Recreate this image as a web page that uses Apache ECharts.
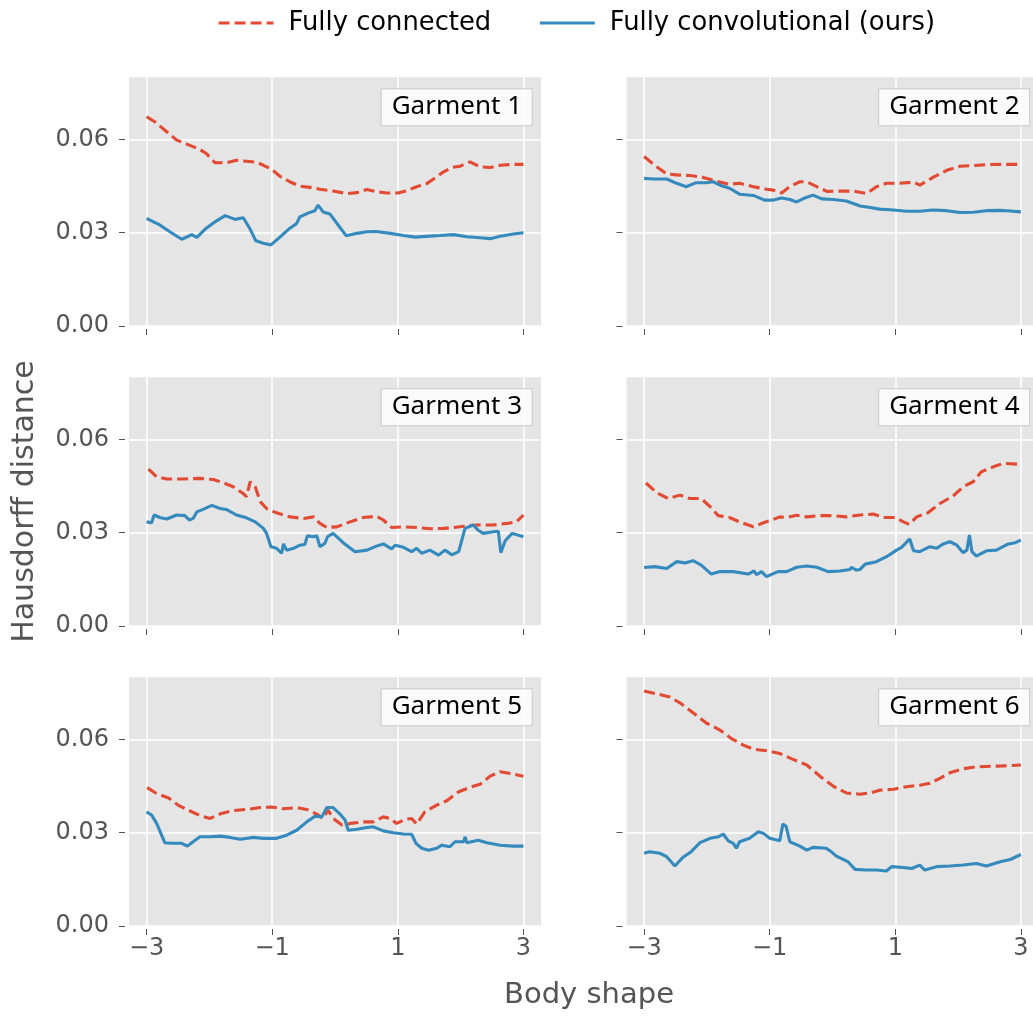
<!DOCTYPE html>
<html>
<head>
<meta charset="utf-8">
<script src="https://cdn.jsdelivr.net/npm/echarts@6.0.0/dist/echarts.min.js"></script>
<style>
  html, body { margin: 0; padding: 0; background: #ffffff; }
  #chart { width: 1033px; height: 1016px; }
</style>
</head>
<body>
<div id="chart"></div>
<script>
// ---------- data ----------
const seriesNames = ['Fully connected', 'Fully convolutional (ours)'];
const garments = ['Garment 1', 'Garment 2', 'Garment 3', 'Garment 4', 'Garment 5', 'Garment 6'];
const xTicks = [-3, -1, 1, 3];
const yTicks = [0, 0.03, 0.06];

const g1FC = [[-3.00,0.0673],[-2.87,0.0657],[-2.68,0.0625],[-2.52,0.0598],[-2.36,0.0585],[-2.15,0.0568],[-2.04,0.0553],[-1.91,0.0525],[-1.73,0.0525],[-1.57,0.0533],[-1.41,0.0530],[-1.25,0.0527],[-1.14,0.0517],[-1.00,0.0503],[-0.88,0.0482],[-0.72,0.0464],[-0.56,0.0450],[-0.40,0.0446],[-0.24,0.0440],[-0.03,0.0434],[0.19,0.0426],[0.35,0.0429],[0.51,0.0439],[0.66,0.0432],[0.82,0.0428],[1.00,0.0428],[1.14,0.0435],[1.30,0.0448],[1.46,0.0458],[1.62,0.0480],[1.73,0.0496],[1.86,0.0510],[1.99,0.0514],[2.15,0.0528],[2.31,0.0512],[2.47,0.0510],[2.63,0.0517],[2.84,0.0520],[3.00,0.0520]];
const g1Ours = [[-3.00,0.0346],[-2.89,0.0335],[-2.79,0.0325],[-2.63,0.0303],[-2.44,0.0279],[-2.28,0.0294],[-2.20,0.0285],[-2.07,0.0311],[-1.91,0.0335],[-1.75,0.0355],[-1.59,0.0343],[-1.46,0.0348],[-1.35,0.0311],[-1.26,0.0274],[-1.14,0.0266],[-1.02,0.0261],[-0.90,0.0282],[-0.74,0.0311],[-0.61,0.0330],[-0.56,0.0351],[-0.42,0.0364],[-0.32,0.0371],[-0.27,0.0389],[-0.19,0.0367],[-0.08,0.0360],[0.05,0.0325],[0.18,0.0290],[0.35,0.0298],[0.51,0.0303],[0.66,0.0304],[0.88,0.0298],[1.09,0.0291],[1.28,0.0286],[1.51,0.0289],[1.67,0.0291],[1.89,0.0294],[2.10,0.0287],[2.31,0.0284],[2.47,0.0281],[2.63,0.0289],[2.84,0.0296],[3.00,0.0300]];

const g2FC = [[-3.00,0.0545],[-2.80,0.0512],[-2.64,0.0489],[-2.48,0.0486],[-2.27,0.0484],[-2.06,0.0478],[-1.85,0.0466],[-1.64,0.0456],[-1.48,0.0459],[-1.26,0.0448],[-1.05,0.0440],[-0.94,0.0437],[-0.81,0.0428],[-0.68,0.0448],[-0.52,0.0464],[-0.41,0.0464],[-0.25,0.0448],[-0.09,0.0433],[0.12,0.0434],[0.33,0.0434],[0.54,0.0426],[0.70,0.0448],[0.86,0.0459],[1.07,0.0459],[1.29,0.0463],[1.39,0.0453],[1.60,0.0478],[1.82,0.0501],[2.03,0.0514],[2.24,0.0516],[2.45,0.0519],[2.67,0.0520],[3.00,0.0520]];
const g2Ours = [[-3.00,0.0475],[-2.86,0.0473],[-2.64,0.0473],[-2.48,0.0459],[-2.33,0.0448],[-2.17,0.0461],[-2.01,0.0461],[-1.90,0.0464],[-1.79,0.0453],[-1.64,0.0443],[-1.48,0.0424],[-1.26,0.0420],[-1.08,0.0405],[-0.94,0.0405],[-0.81,0.0412],[-0.68,0.0407],[-0.57,0.0399],[-0.44,0.0412],[-0.31,0.0421],[-0.17,0.0409],[0.01,0.0407],[0.22,0.0402],[0.44,0.0386],[0.60,0.0381],[0.75,0.0376],[0.97,0.0373],[1.18,0.0369],[1.39,0.0369],[1.60,0.0373],[1.82,0.0371],[2.03,0.0365],[2.24,0.0366],[2.45,0.0371],[2.67,0.0372],[2.83,0.0370],[3.00,0.0367]];

const g3FC = [[-2.97,0.0505],[-2.84,0.0480],[-2.68,0.0473],[-2.42,0.0473],[-2.15,0.0475],[-1.94,0.0471],[-1.78,0.0461],[-1.62,0.0448],[-1.46,0.0426],[-1.41,0.0416],[-1.35,0.0464],[-1.27,0.0448],[-1.19,0.0400],[-1.09,0.0378],[-0.93,0.0364],[-0.72,0.0351],[-0.50,0.0346],[-0.34,0.0351],[-0.24,0.0330],[-0.13,0.0317],[0.03,0.0319],[0.24,0.0335],[0.45,0.0349],[0.66,0.0353],[0.77,0.0341],[0.90,0.0317],[1.09,0.0319],[1.30,0.0317],[1.51,0.0313],[1.73,0.0314],[1.89,0.0317],[2.05,0.0321],[2.26,0.0325],[2.52,0.0325],[2.74,0.0330],[2.89,0.0335],[3.00,0.0357]];
const g3Ours = [[-3.00,0.0335],[-2.92,0.0332],[-2.88,0.0357],[-2.79,0.0349],[-2.68,0.0344],[-2.52,0.0357],[-2.39,0.0355],[-2.32,0.0341],[-2.26,0.0346],[-2.20,0.0367],[-2.10,0.0375],[-1.96,0.0388],[-1.83,0.0378],[-1.73,0.0375],[-1.57,0.0357],[-1.41,0.0348],[-1.27,0.0335],[-1.14,0.0314],[-1.09,0.0298],[-1.02,0.0255],[-0.93,0.0250],[-0.85,0.0234],[-0.82,0.0264],[-0.77,0.0244],[-0.66,0.0250],[-0.56,0.0260],[-0.48,0.0262],[-0.44,0.0290],[-0.34,0.0287],[-0.29,0.0290],[-0.24,0.0255],[-0.16,0.0266],[-0.12,0.0287],[-0.03,0.0298],[0.13,0.0268],[0.32,0.0239],[0.51,0.0244],[0.66,0.0257],[0.77,0.0264],[0.90,0.0248],[0.96,0.0260],[1.09,0.0253],[1.22,0.0239],[1.30,0.0250],[1.38,0.0234],[1.51,0.0244],[1.65,0.0228],[1.75,0.0244],[1.86,0.0229],[1.97,0.0239],[2.07,0.0314],[2.20,0.0325],[2.28,0.0308],[2.36,0.0298],[2.52,0.0303],[2.60,0.0305],[2.64,0.0236],[2.71,0.0274],[2.82,0.0298],[3.00,0.0287]];

const g4FC = [[-2.97,0.0460],[-2.80,0.0429],[-2.62,0.0410],[-2.43,0.0421],[-2.27,0.0410],[-2.09,0.0410],[-1.95,0.0384],[-1.82,0.0355],[-1.64,0.0349],[-1.48,0.0335],[-1.26,0.0319],[-1.10,0.0332],[-0.94,0.0343],[-0.84,0.0351],[-0.73,0.0349],[-0.57,0.0356],[-0.41,0.0351],[-0.20,0.0355],[0.01,0.0355],[0.22,0.0351],[0.44,0.0357],[0.65,0.0360],[0.81,0.0349],[0.99,0.0349],[1.13,0.0335],[1.22,0.0327],[1.34,0.0351],[1.52,0.0364],[1.71,0.0394],[1.92,0.0418],[2.08,0.0448],[2.24,0.0464],[2.37,0.0496],[2.56,0.0512],[2.72,0.0523],[3.00,0.0520]];
const g4Ours = [[-3.00,0.0188],[-2.83,0.0191],[-2.64,0.0185],[-2.48,0.0207],[-2.35,0.0203],[-2.22,0.0210],[-2.09,0.0196],[-1.93,0.0167],[-1.79,0.0175],[-1.58,0.0175],[-1.34,0.0167],[-1.25,0.0177],[-1.21,0.0165],[-1.13,0.0175],[-1.05,0.0159],[-0.87,0.0175],[-0.73,0.0175],[-0.57,0.0189],[-0.41,0.0193],[-0.25,0.0189],[-0.07,0.0175],[0.12,0.0177],[0.28,0.0182],[0.30,0.0189],[0.38,0.0180],[0.44,0.0182],[0.52,0.0199],[0.70,0.0207],[0.86,0.0223],[1.02,0.0244],[1.10,0.0253],[1.23,0.0280],[1.29,0.0242],[1.39,0.0239],[1.55,0.0255],[1.66,0.0250],[1.76,0.0264],[1.87,0.0271],[1.98,0.0260],[2.08,0.0236],[2.14,0.0244],[2.18,0.0293],[2.22,0.0239],[2.29,0.0225],[2.45,0.0242],[2.61,0.0244],[2.80,0.0264],[2.91,0.0268],[3.00,0.0276]];

const g5FC = [[-2.99,0.0445],[-2.84,0.0426],[-2.65,0.0412],[-2.50,0.0389],[-2.34,0.0373],[-2.15,0.0355],[-1.99,0.0346],[-1.81,0.0362],[-1.62,0.0371],[-1.41,0.0375],[-1.19,0.0381],[-1.01,0.0383],[-0.82,0.0377],[-0.61,0.0381],[-0.45,0.0375],[-0.29,0.0360],[-0.19,0.0346],[-0.11,0.0373],[-0.03,0.0346],[0.11,0.0325],[0.24,0.0330],[0.45,0.0335],[0.61,0.0335],[0.77,0.0351],[0.88,0.0346],[0.98,0.0330],[1.12,0.0343],[1.22,0.0346],[1.30,0.0328],[1.43,0.0367],[1.62,0.0389],[1.78,0.0403],[1.97,0.0432],[2.15,0.0446],[2.31,0.0456],[2.47,0.0482],[2.63,0.0496],[2.84,0.0489],[3.00,0.0482]];
const g5Ours = [[-3.00,0.0367],[-2.92,0.0357],[-2.84,0.0330],[-2.71,0.0268],[-2.60,0.0266],[-2.44,0.0266],[-2.35,0.0257],[-2.26,0.0271],[-2.15,0.0287],[-1.99,0.0287],[-1.83,0.0289],[-1.67,0.0285],[-1.51,0.0279],[-1.30,0.0285],[-1.14,0.0282],[-0.93,0.0282],[-0.77,0.0292],[-0.61,0.0308],[-0.45,0.0335],[-0.32,0.0353],[-0.21,0.0351],[-0.13,0.0381],[-0.03,0.0381],[0.08,0.0360],[0.16,0.0341],[0.21,0.0308],[0.35,0.0311],[0.51,0.0317],[0.61,0.0319],[0.77,0.0306],[0.93,0.0300],[1.09,0.0296],[1.22,0.0295],[1.29,0.0266],[1.38,0.0250],[1.49,0.0244],[1.62,0.0250],[1.70,0.0260],[1.83,0.0255],[1.91,0.0271],[2.05,0.0271],[2.07,0.0287],[2.10,0.0268],[2.28,0.0276],[2.42,0.0268],[2.63,0.0260],[2.84,0.0257],[3.00,0.0257]];

const g6FC = [[-3.00,0.0756],[-2.78,0.0746],[-2.59,0.0737],[-2.43,0.0718],[-2.22,0.0686],[-2.01,0.0653],[-1.79,0.0630],[-1.61,0.0603],[-1.42,0.0582],[-1.26,0.0569],[-1.05,0.0564],[-0.84,0.0555],[-0.63,0.0536],[-0.41,0.0518],[-0.20,0.0482],[0.01,0.0450],[0.22,0.0428],[0.44,0.0424],[0.60,0.0428],[0.75,0.0437],[0.97,0.0440],[1.18,0.0448],[1.39,0.0453],[1.55,0.0459],[1.71,0.0475],[1.87,0.0493],[2.08,0.0506],[2.29,0.0512],[2.51,0.0514],[2.72,0.0515],[3.00,0.0518]];
const g6Ours = [[-3.00,0.0234],[-2.91,0.0239],[-2.75,0.0234],[-2.64,0.0223],[-2.51,0.0193],[-2.38,0.0221],[-2.25,0.0239],[-2.11,0.0268],[-1.95,0.0282],[-1.82,0.0287],[-1.74,0.0296],[-1.66,0.0274],[-1.58,0.0266],[-1.53,0.0250],[-1.48,0.0271],[-1.32,0.0282],[-1.18,0.0303],[-1.10,0.0298],[-1.00,0.0282],[-0.84,0.0274],[-0.79,0.0328],[-0.74,0.0321],[-0.68,0.0271],[-0.52,0.0257],[-0.41,0.0244],[-0.31,0.0253],[-0.10,0.0250],[-0.02,0.0239],[0.06,0.0225],[0.17,0.0214],[0.25,0.0206],[0.36,0.0182],[0.54,0.0180],[0.70,0.0180],[0.86,0.0177],[0.94,0.0191],[1.13,0.0188],[1.26,0.0185],[1.39,0.0196],[1.47,0.0180],[1.66,0.0191],[1.87,0.0193],[2.08,0.0196],[2.29,0.0201],[2.45,0.0193],[2.67,0.0207],[2.83,0.0214],[3.00,0.0230]];

const fcData = [g1FC, g2FC, g3FC, g4FC, g5FC, g6FC];
const oursData = [g1Ours, g2Ours, g3Ours, g4Ours, g5Ours, g6Ours];

// ---------- layout & style ----------
const W = 1033;
const colLeft = [129, 626.5];
const rowTop = [77.3, 377.3, 677.3];
const gW = 412, gH = 248.7;
const xMin = -3.28, xMax = 3.28;
const yMin = 0, yMax = 0.08;
const RED = '#E24A33', BLUE = '#348ABD', TXT = '#555555';
const FONT = 'DejaVu Sans';
const LW = 3.1;

const grids = [], xAxes = [], yAxes = [], series = [], titles = [];
for (let i = 0; i < 6; i++) {
  const r = Math.floor(i / 2), c = i % 2;
  grids.push({
    left: colLeft[c], top: rowTop[r], width: gW, height: gH,
    show: true, backgroundColor: '#E5E5E5', borderWidth: 0,
    containLabel: false, outerBoundsMode: 'none'
  });
  xAxes.push({
    type: 'value', gridIndex: i, min: xMin, max: xMax, offset: 3,
    axisLine: { show: false, onZero: false },
    axisTick: { show: true, length: 6, customValues: xTicks, lineStyle: { color: TXT, width: 1 } },
    axisLabel: {
      show: r === 2, customValues: xTicks, margin: 8,
      color: TXT, fontFamily: FONT, fontSize: 24,
      formatter: v => (v < 0 ? '\u2212' + Math.abs(v) : String(v))
    },
    splitLine: { show: true, lineStyle: { color: '#ffffff', width: 1.5 } }
  });
  yAxes.push({
    type: 'value', gridIndex: i, min: yMin, max: yMax, interval: 0.03, offset: 4,
    axisLine: { show: false, onZero: false },
    axisTick: { show: true, length: 6, customValues: yTicks, lineStyle: { color: TXT, width: 1 } },
    axisLabel: {
      show: c === 0, customValues: yTicks, margin: 16,
      color: TXT, fontFamily: FONT, fontSize: 24,
      formatter: v => v.toFixed(2)
    },
    splitLine: { show: true, lineStyle: { color: '#ffffff', width: 1.5 } }
  });
  series.push({
    name: seriesNames[0], type: 'line', xAxisIndex: i, yAxisIndex: i,
    data: fcData[i], symbol: 'none', showSymbol: false, smooth: false,
    lineStyle: { color: RED, width: LW, type: [11, 5] },
    itemStyle: { color: RED }, z: 3
  });
  series.push({
    name: seriesNames[1], type: 'line', xAxisIndex: i, yAxisIndex: i,
    data: oursData[i], symbol: 'none', showSymbol: false, smooth: false,
    lineStyle: { color: BLUE, width: LW, type: 'solid' },
    itemStyle: { color: BLUE }, z: 4
  });
  const panelRight = colLeft[c] + gW;
  titles.push({
    text: garments[i],
    right: W - panelRight + 9,
    top: rowTop[r] + 11,
    backgroundColor: 'rgba(255,255,255,0.8)',
    borderColor: '#c8c8c8', borderWidth: 1, borderRadius: 0,
    padding: [4, 10, 6, 11],
    textStyle: { fontFamily: 'Noto Sans', fontSize: 26, fontWeight: 'normal', color: '#000000', lineHeight: 28 }
  });
}

const option = {
  animation: false,
  backgroundColor: '#ffffff',
  title: titles,
  legend: {
    data: seriesNames,
    left: 212, top: 5,
    itemWidth: 55, itemHeight: 15, itemGap: 47,
    itemStyle: { opacity: 0 },
    lineStyle: { width: LW },
    textStyle: { fontFamily: FONT, fontSize: 25.8, color: '#000000', padding: [0, 0, 0, 10] },
    selectedMode: false
  },
  grid: grids,
  xAxis: xAxes,
  yAxis: yAxes,
  series: series,
  graphic: [
    { type: 'text', x: 25, y: 501.5, rotation: Math.PI / 2,
      style: { text: 'Hausdorff distance', fontFamily: FONT, fontSize: 30, fill: TXT, textAlign: 'center', textVerticalAlign: 'middle' } },
    { type: 'text', x: 589, y: 995,
      style: { text: 'Body shape', fontFamily: FONT, fontSize: 29, fill: TXT, textAlign: 'center', textVerticalAlign: 'middle' } }
  ]
};

const chart = echarts.init(document.getElementById('chart'), null, { renderer: 'canvas' });
chart.setOption(option);
</script>
</body>
</html>
